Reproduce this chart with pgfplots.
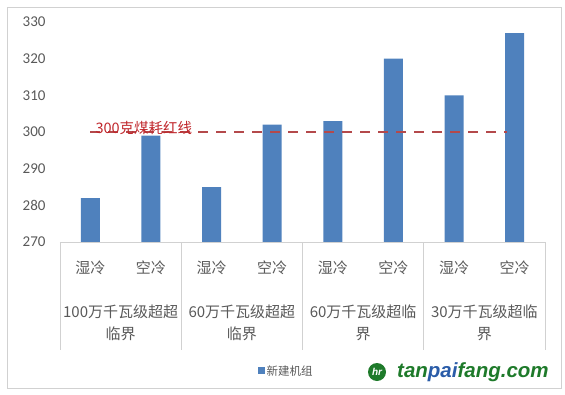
\documentclass[border=0pt]{standalone}
\usepackage{pgfplots}
\pgfplotsset{compat=1.18}
\usepackage{fontspec}
\setmainfont{Carlito}
\newfontfamily\cjk{Noto Sans CJK SC}
\newfontfamily\wm{Liberation Sans}
\definecolor{barblue}{HTML}{4F81BD}
\definecolor{txtgray}{HTML}{595959}
\definecolor{linered}{HTML}{B4494B}
\definecolor{lblred}{HTML}{C0262B}
\definecolor{wmgreen}{HTML}{1E7A2A}
\definecolor{wmblue}{HTML}{2A5CA8}
\begin{document}
\begin{tikzpicture}
\useasboundingbox (-60pt,-152pt) rectangle (505pt,242pt);
\draw[color=black!18, line width=0.8pt] (-53pt,-146pt) rectangle (501pt,235pt);
\begin{axis}[
  at={(0,0)}, anchor=south west,
  scale only axis, width=485pt, height=220pt,
  xmin=-0.5, xmax=7.5, ymin=270, ymax=330,
  ytick={270,280,...,330},
  xtick=\empty,
  axis line style={draw=none},
  major tick length=0pt,
  clip=false,
  /pgf/number format/assume math mode=true,
  yticklabel style={font=\fontsize{15}{17}\selectfont, text=txtgray, xshift=-11pt},
  legend style={at={(axis description cs:0.466,-0.586)}, anchor=center, draw=none, fill=none,
    font=\cjk\fontsize{11.5}{13}\selectfont, text=txtgray, inner sep=0pt,
    legend cell align=left},
  legend image code/.code={\fill[barblue] (0pt,-3.5pt) rectangle (7pt,3.5pt);},
]
\addplot[ybar, bar width=19pt, fill=barblue, draw=none]
  coordinates {(0,282) (1,299) (2,285) (3,302) (4,303) (5,320) (6,310) (7,327)};
\addlegendentry{新建机组}
\addplot[forget plot, color=linered, line width=2.8pt, dash pattern=on 10pt off 8pt]
  coordinates {(0,300) (6.87,300)};
% axis line and group separators
\draw[color=black!18, line width=0.8pt] (axis cs:-0.5,270) -- (axis cs:7.5,270);
\pgfplotsinvokeforeach{-0.5,1.5,3.5,5.5,7.5}{
  \draw[color=black!18, line width=0.8pt] (axis cs:#1,270) -- ([yshift=-108pt]axis cs:#1,270);
}
% category labels
\pgfplotsinvokeforeach{0,2,4,6}{
  \node[font=\cjk\fontsize{15}{17}\selectfont, text=txtgray] at ([yshift=-26pt]axis cs:#1,270) {湿冷};
}
\pgfplotsinvokeforeach{1,3,5,7}{
  \node[font=\cjk\fontsize{15}{17}\selectfont, text=txtgray] at ([yshift=-26pt]axis cs:#1,270) {空冷};
}
\node[font=\cjk\fontsize{15}{22}\selectfont, text=txtgray, align=center] at ([yshift=-81pt]axis cs:0.5,270) {100万千瓦级超超\\临界};
\node[font=\cjk\fontsize{15}{22}\selectfont, text=txtgray, align=center] at ([yshift=-81pt]axis cs:2.5,270) {60万千瓦级超超\\临界};
\node[font=\cjk\fontsize{15}{22}\selectfont, text=txtgray, align=center] at ([yshift=-81pt]axis cs:4.5,270) {60万千瓦级超临\\界};
\node[font=\cjk\fontsize{15}{22}\selectfont, text=txtgray, align=center] at ([yshift=-81pt]axis cs:6.5,270) {30万千瓦级超临\\界};
% red line label
\node[font=\cjk\fontsize{14.5}{16}\selectfont, text=lblred, anchor=west, inner sep=0pt] at ([xshift=5pt,yshift=4pt]axis cs:0,300) {300克煤耗红线};
\end{axis}
% watermark
\fill[wmgreen] (317pt,-130pt) circle (9pt);
\node[text=white, font=\wm\bfseries\itshape\fontsize{10}{10}\selectfont] at (317pt,-130pt) {hr};
\node[anchor=west, inner sep=0pt, font=\wm\bfseries\itshape\fontsize{20.5}{21}\selectfont] at (337pt,-130pt)
  {\textcolor{wmgreen}{tan}\textcolor{wmblue}{pai}\textcolor{wmgreen}{fang.com}};
\end{tikzpicture}
\end{document}
